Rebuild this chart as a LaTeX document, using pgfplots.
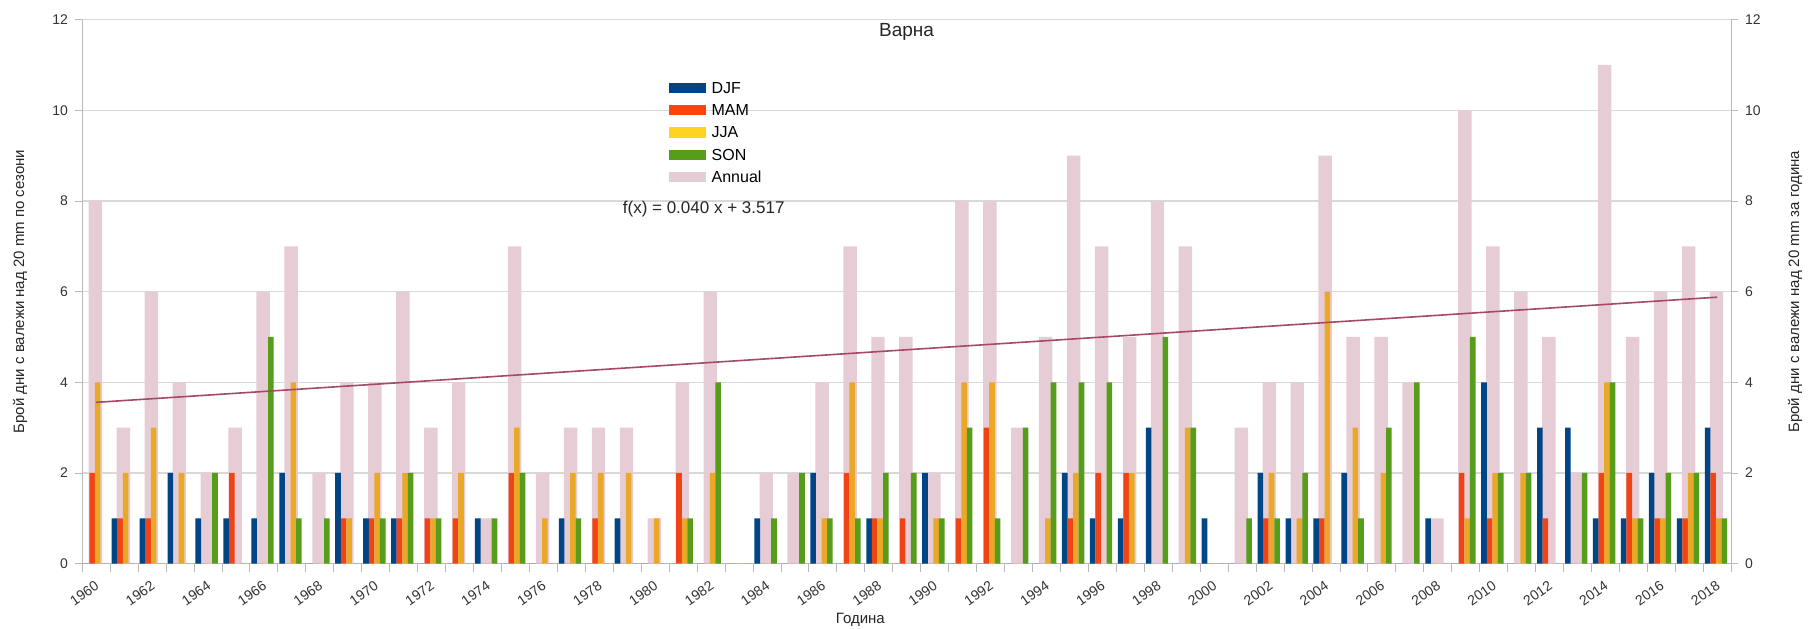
\documentclass[border=0pt]{standalone}
\usepackage{fontspec}
\setmainfont{Liberation Sans}
\usepackage{pgfplots}
\usepackage{pgfplotstable}
\pgfplotsset{compat=1.18}

\definecolor{djf}{RGB}{0,69,134}
\definecolor{mam}{RGB}{240,68,22}
\definecolor{mamleg}{RGB}{255,66,14}
\definecolor{jja}{RGB}{234,168,40}
\definecolor{jjaleg}{RGB}{255,211,32}
\definecolor{son}{RGB}{87,157,28}
\definecolor{ann}{RGB}{230,205,213}
\definecolor{trend}{RGB}{165,72,105}

% year, seasonal counts, annual count
\pgfplotstableread{
year djf mam jja son ann
1960 0 2 4 0 8
1961 1 1 2 0 3
1962 1 1 3 0 6
1963 2 0 2 0 4
1964 1 0 0 2 2
1965 1 2 0 0 3
1966 1 0 0 5 6
1967 2 0 4 1 7
1968 0 0 0 1 2
1969 2 1 1 0 4
1970 1 1 2 1 4
1971 1 1 2 2 6
1972 0 1 1 1 3
1973 0 1 2 0 4
1974 1 0 0 1 1
1975 0 2 3 2 7
1976 0 0 1 0 2
1977 1 0 2 1 3
1978 0 1 2 0 3
1979 1 0 2 0 3
1980 0 0 1 0 1
1981 0 2 1 1 4
1982 0 0 2 4 6
1983 0 0 0 0 0
1984 1 0 0 1 2
1985 0 0 0 2 2
1986 2 0 1 1 4
1987 0 2 4 1 7
1988 1 1 1 2 5
1989 0 1 0 2 5
1990 2 0 1 1 2
1991 0 1 4 3 8
1992 0 3 4 1 8
1993 0 0 0 3 3
1994 0 0 1 4 5
1995 2 1 2 4 9
1996 1 2 0 4 7
1997 1 2 2 0 5
1998 3 0 0 5 8
1999 0 0 3 3 7
2000 1 0 0 0 0
2001 0 0 0 1 3
2002 2 1 2 1 4
2003 1 0 1 2 4
2004 1 1 6 0 9
2005 2 0 3 1 5
2006 0 0 2 3 5
2007 0 0 0 4 4
2008 1 0 0 0 1
2009 0 2 1 5 10
2010 4 1 2 2 7
2011 0 0 2 2 6
2012 3 1 0 0 5
2013 3 0 0 2 2
2014 1 2 4 4 11
2015 1 2 1 1 5
2016 2 1 1 2 6
2017 1 1 2 2 7
2018 3 2 1 1 6
}\varna

\newcommand\legbox[1]{\addlegendimage{legend image code/.code={\fill[#1] (0pt,-2.3pt) rectangle (18pt,2.3pt);}}}

\begin{document}
\begin{tikzpicture}
\pgfplotsset{
  every axis/.append style={
    scale only axis, width=824.5pt, height=272pt,
    xmin=1959.5, xmax=2018.5, ymin=0, ymax=12,
    ytick={0,2,...,12},
    tick label style={font=\fontsize{7}{8}\selectfont, text=black!80},
    label style={font=\fontsize{7.5}{9}\selectfont, text=black!85},
    /pgf/number format/assume math mode=true,
    axis line style={gray!55}, tick align=outside,
    major tick length=3.5pt,
  }
}
\begin{axis}[
  name=main,
  axis x line*=bottom, axis y line*=left,
  xtick={1960,1962,...,2018},
  minor xtick={1959.5,1960.5,...,2018.5},
  major x tick style={draw=none},
  minor x tick style={gray!55},
  minor tick length=4pt,
  y tick style={gray!55},
  x tick label style={rotate=35, anchor=north east, /pgf/number format/1000 sep={}},
  ymajorgrids, grid style={gray!30, line width=0.6pt},
  ylabel={Брой дни с валежи над 20 mm по сезони},
  ylabel style={at={(axis description cs:-0.0376,0.5)}, anchor=center},
  xlabel={Година},
  xlabel style={at={(axis description cs:0.472,-0.103)}, anchor=center},
  legend style={at={(rel axis cs:0.352,0.9)}, anchor=north west, draw=none, fill=none,
    font=\fontsize{8}{9}\selectfont, row sep=1.6pt,
    nodes={inner sep=0pt, text height=0.75em, text depth=0.2em},
    column sep=3pt},
  legend cell align=left,
]
\addplot[ybar, bar width=0.48, bar shift=-0.02, fill=ann, draw=none, forget plot] table[x=year, y=ann] {\varna};
\addplot[ybar, bar width=0.2, bar shift=-0.34, fill=djf, draw=none, forget plot] table[x=year, y=djf] {\varna};
\addplot[ybar, bar width=0.2, bar shift=-0.14, fill=mam, draw=none, forget plot] table[x=year, y=mam] {\varna};
\addplot[ybar, bar width=0.2, bar shift=0.06, fill=jja, draw=none, forget plot] table[x=year, y=jja] {\varna};
\addplot[ybar, bar width=0.2, bar shift=0.26, fill=son, draw=none, forget plot] table[x=year, y=son] {\varna};
% linear trend of the annual counts, f(x) = 0.040 x + 3.517 with x = 1 for 1960
\addplot[trend, line width=0.8pt, forget plot] coordinates {(1960,3.557) (2018,5.877)};
\legbox{djf}\addlegendentry{DJF}
\legbox{mamleg}\addlegendentry{MAM}
\legbox{jjaleg}\addlegendentry{JJA}
\legbox{son}\addlegendentry{SON}
\legbox{ann}\addlegendentry{Annual}
\node[font=\fontsize{8.5}{10}\selectfont, text=black!85] at (rel axis cs:0.377,0.652) {f(x) = 0.040 x + 3.517};
\node[font=\fontsize{9.5}{11}\selectfont, text=black!85] at (rel axis cs:0.5,0.978) {Варна};
\end{axis}
\begin{axis}[
  axis x line=none, axis y line*=right,
  y tick style={gray!55},
  ylabel={Брой дни с валежи над 20 mm за година},
  ylabel style={at={(axis description cs:1.0388,0.5)}, anchor=center},
]
\addplot[draw=none] coordinates {(1960,0)};
\end{axis}
\pgfresetboundingbox
\path ([shift={(-41pt,-32.5pt)}]main.south west) rectangle ([shift={(39.5pt,9.8pt)}]main.north east);
\end{tikzpicture}
\end{document}
